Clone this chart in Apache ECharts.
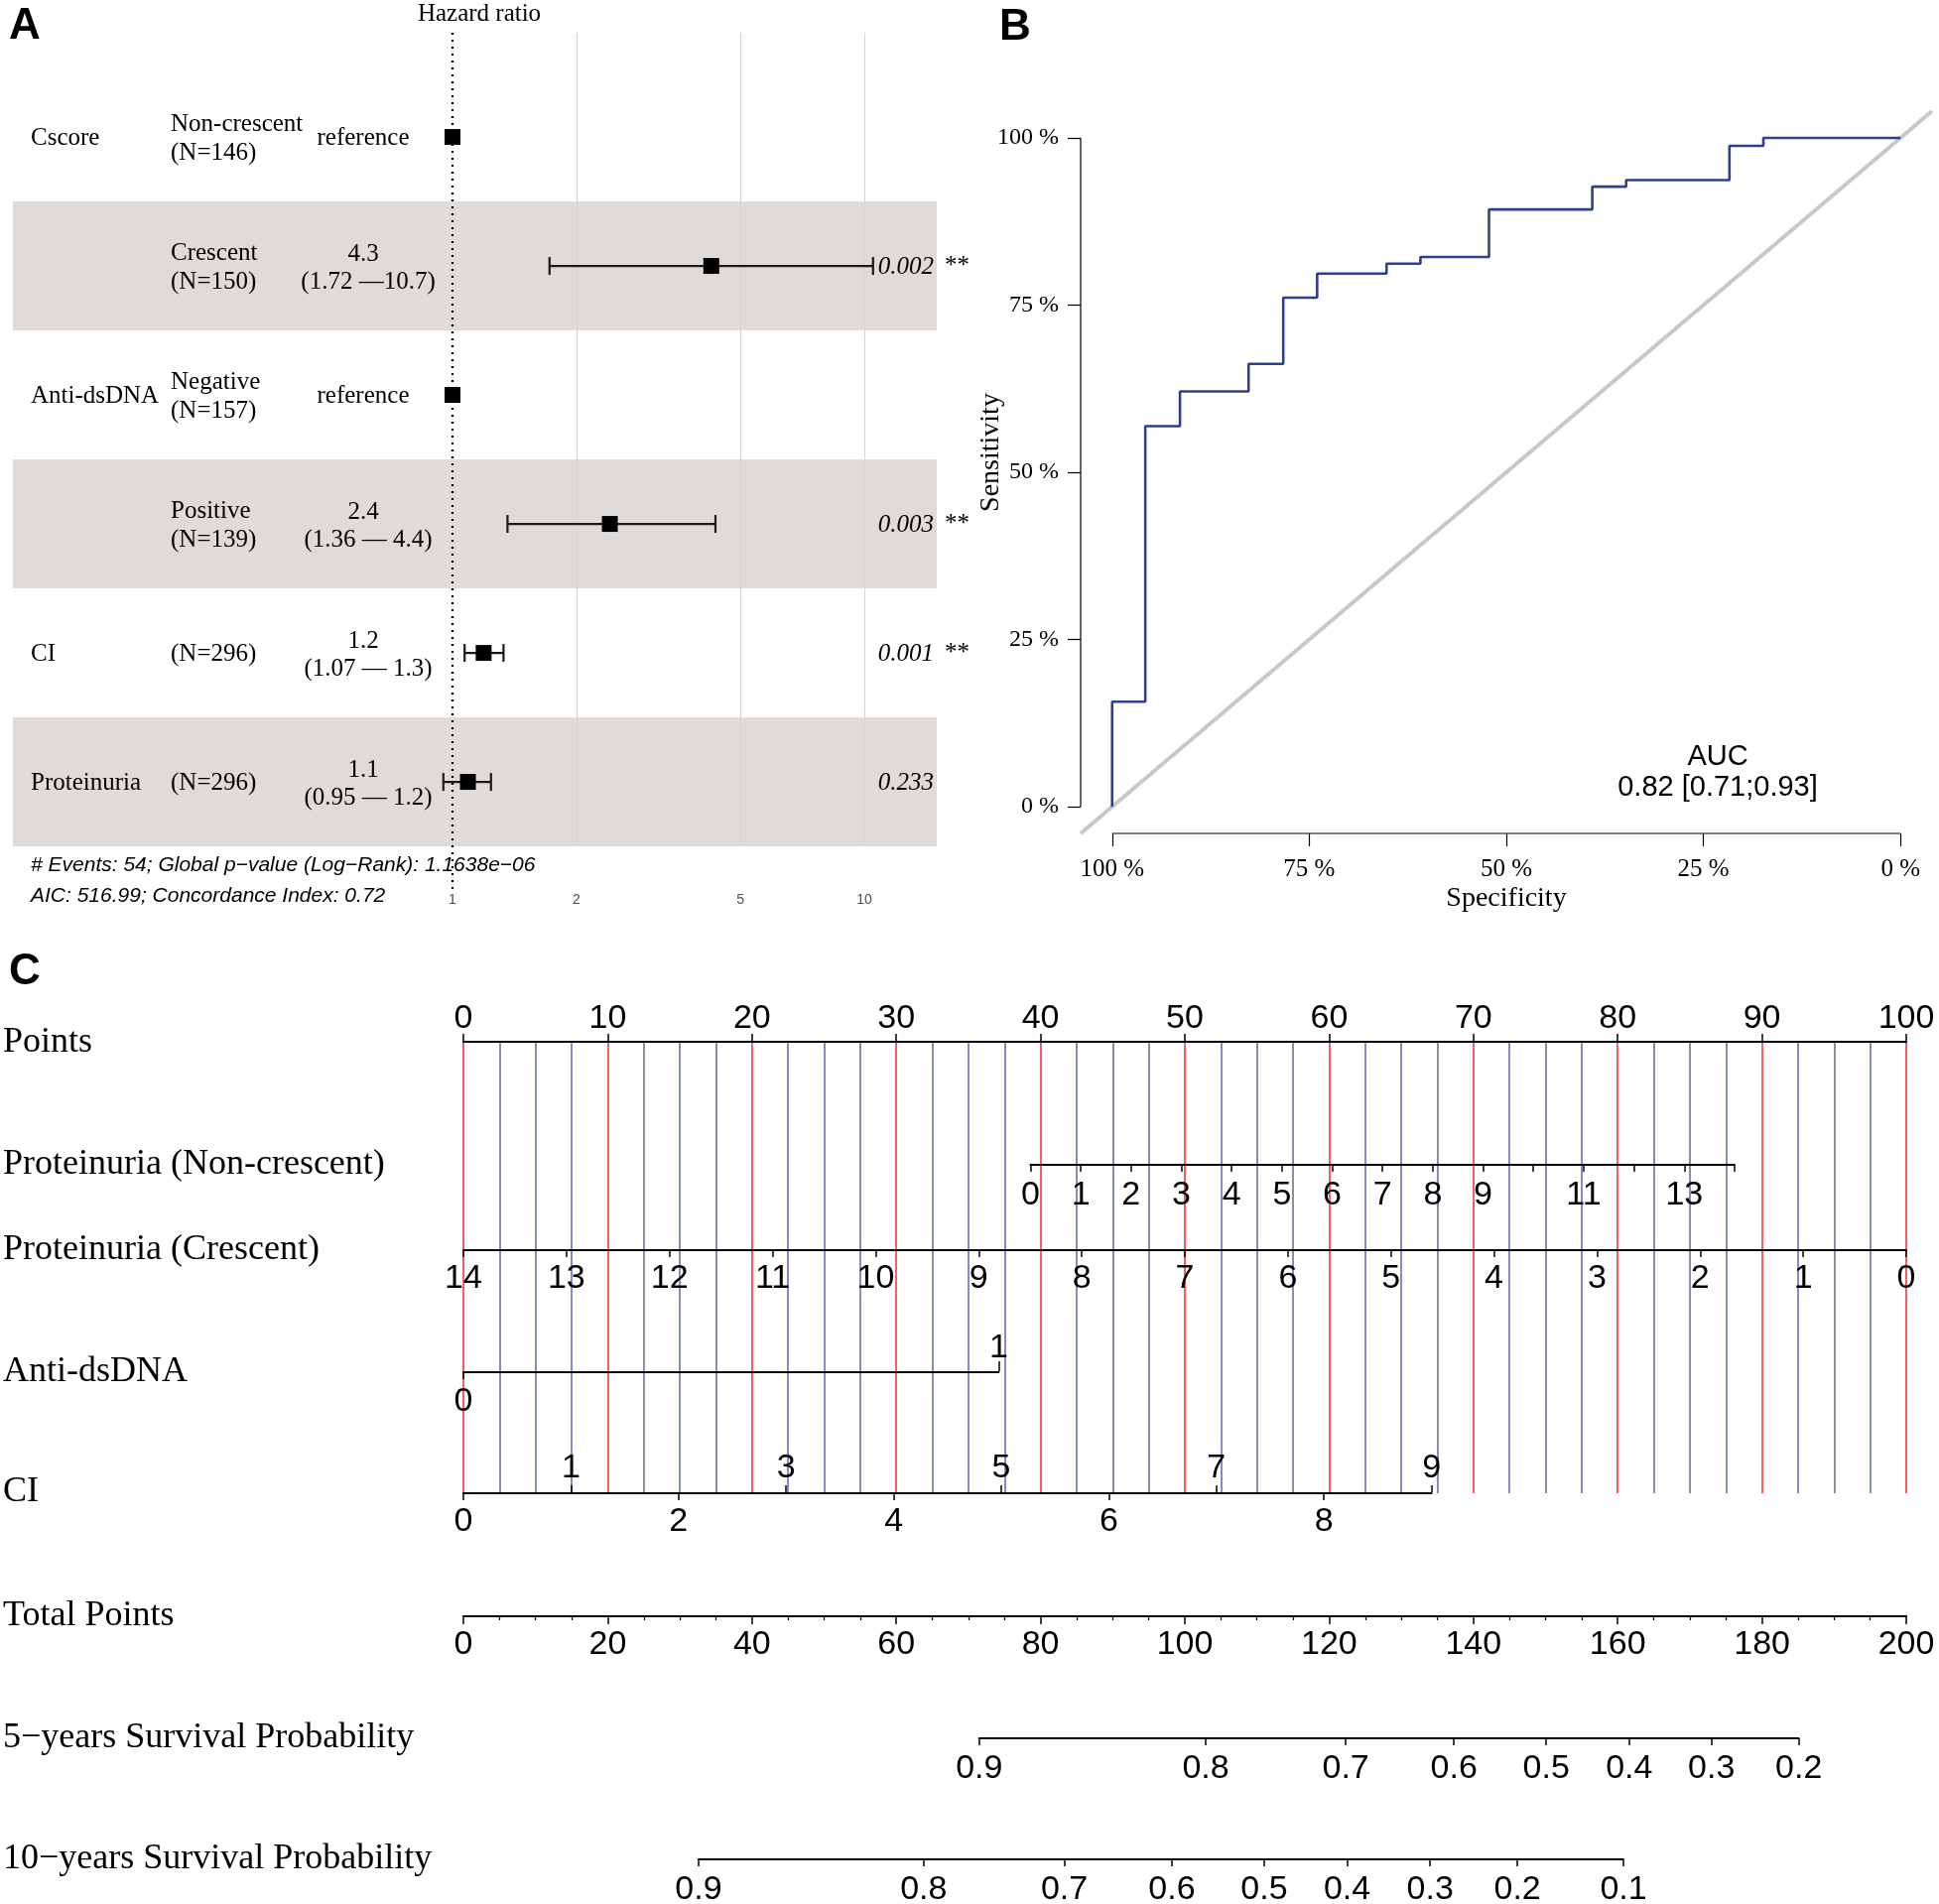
<!DOCTYPE html>
<html>
<head>
<meta charset="utf-8">
<script src="https://cdn.jsdelivr.net/npm/echarts@6/dist/echarts.min.js"></script>
<style>
html, body { margin: 0; padding: 0; background: #fff; }
#main { width: 1954px; height: 1919px; }
</style>
</head>
<body>
<div id="main"></div>
<script>
// ---------- A: forest plot ----------
const forestVariable = ['Cscore', '', 'Anti-dsDNA', '', 'CI', 'Proteinuria'];
const forestLevel = ['Non-crescent', 'Crescent', 'Negative', 'Positive', '', ''];
const forestN = [146, 150, 157, 139, 296, 296];
const forestHR = [1, 4.25, 1, 2.41, 1.19, 1.09];
const forestLow = [null, 1.72, null, 1.36, 1.07, 0.95];
const forestHigh = [null, 10.5, null, 4.35, 1.33, 1.24];
const forestHRText = ['reference', '4.3', 'reference', '2.4', '1.2', '1.1'];
const forestCIText = ['', '(1.72 \u201410.7)', '', '(1.36 \u2014 4.4)', '(1.07 \u2014 1.3)', '(0.95 \u2014 1.2)'];
const forestP = ['', '0.002', '', '0.003', '0.001', '0.233'];
const forestStars = ['', '**', '', '**', '**', ''];
const forestTicks = [1, 2, 5, 10];

// ---------- B: ROC curve ----------
const rocSpecificity = [1, 1, 0.958, 0.958, 0.914, 0.914, 0.827, 0.827, 0.783, 0.783, 0.740, 0.740,
  0.652, 0.652, 0.609, 0.609, 0.522, 0.522, 0.391, 0.391, 0.348, 0.348, 0.217, 0.217, 0.174, 0.174, 0];
const rocSensitivity = [0, 0.157, 0.157, 0.569, 0.569, 0.621, 0.621, 0.662, 0.662, 0.761, 0.761, 0.797,
  0.797, 0.812, 0.812, 0.822, 0.822, 0.893, 0.893, 0.927, 0.927, 0.937, 0.937, 0.988, 0.988, 1, 1];
const rocTicks = [0, 0.25, 0.5, 0.75, 1];

// ---------- C: nomogram ----------
const protNonCrescentRange = [0, 14];
const protNonCrescentPoints = [39.3, 88.1];
const protNonCrescentLabels = [0, 1, 2, 3, 4, 5, 6, 7, 8, 9, 11, 13];
const protCrescentRange = [0, 14];
const protCrescentPoints = [100, 0];
const antiDsDNARange = [0, 1];
const antiDsDNAPoints = [0, 37.1];
const ciRange = [0, 9];
const ciPoints = [0, 67.1];
const ciUpperLabels = [1, 3, 5, 7, 9];
const ciLowerLabels = [0, 2, 4, 6, 8];
const surv5Labels = [0.9, 0.8, 0.7, 0.6, 0.5, 0.4, 0.3, 0.2];
const surv5TotalPoints = [71.5, 102.9, 122.3, 137.3, 150.1, 161.6, 173.0, 185.1];
const surv10Labels = [0.9, 0.8, 0.7, 0.6, 0.5, 0.4, 0.3, 0.2, 0.1];
const surv10TotalPoints = [32.6, 63.8, 83.3, 98.2, 111.0, 122.5, 134.0, 146.1, 160.8];

const SERIF = '"Liberation Serif", "Times New Roman", serif';
const SANS = '"Liberation Sans", Arial, Helvetica, sans-serif';

// layout
const A_TOP = 33, A_BOT = 897, A_LEFT = 13, A_RIGHT = 944;
const A_XMIN = -1.0675, A_XMAX = 1.1759, A_YMIN = 0.192, A_YMAX = 6.838;
const rowY = r => A_TOP + (r - A_YMIN) / (A_YMAX - A_YMIN) * (A_BOT - A_TOP);
const C_LEFT = 467, C_W = 1454;
const ptsX = p => C_LEFT + p / 100 * C_W;
const tpX = t => C_LEFT + t / 200 * C_W;

const chart = echarts.init(document.getElementById('main'));

function txt(text, x, y, o) {
  o = o || {};
  return {
    type: 'text', x: x, y: y, rotation: o.rot || 0, silent: true, z: 100,
    style: {
      text: text, fill: '#000',
      fontSize: o.size || 25, fontFamily: o.family || SERIF,
      fontStyle: o.style || 'normal', fontWeight: o.weight || 'normal',
      align: o.align || 'left', verticalAlign: 'middle'
    }
  };
}

function hiddenY(gi) {
  return { gridIndex: gi, type: 'value', min: 0, max: 1, show: false };
}

function nomoAxis(gi, o) {
  return Object.assign({
    gridIndex: gi, type: 'value', position: 'bottom',
    axisLine: { show: true, onZero: false, lineStyle: { color: '#000', width: 2 } },
    axisTick: { show: true, length: 7, lineStyle: { color: '#000', width: 1.5 } },
    axisLabel: { show: true, color: '#000', fontSize: 34, lineHeight: 34, fontFamily: SANS, margin: 12,
      showMinLabel: true, showMaxLabel: true },
    splitLine: { show: false }
  }, o);
}

function lineGrid(pts, bottomY) {
  const x0 = ptsX(Math.min(pts[0], pts[1]));
  const x1 = ptsX(Math.max(pts[0], pts[1]));
  return { left: x0, width: x1 - x0, top: bottomY - 1, height: 1, outerBoundsMode: 'none' };
}

// forest marks
const squareData = forestHR.map((h, i) => [Math.log10(h), i + 1]);
const barData = [];
forestLow.forEach((lo, i) => {
  if (lo !== null) barData.push([Math.log10(lo), Math.log10(forestHigh[i]), i + 1]);
});
const bandAreas = [];
forestHR.forEach((h, i) => {
  if (i % 2 === 1) bandAreas.push([{ coord: [A_XMIN, i + 0.5] }, { coord: [A_XMAX, i + 1.5] }]);
});
const gridLines = forestTicks.slice(1).map(t => [
  { coord: [Math.log10(t), A_YMIN], lineStyle: { color: '#d8d5d3', width: 1.2, type: 'solid' } },
  { coord: [Math.log10(t), forestHR.length + 0.5] }
]);

// texts
const graphics = [];
graphics.push(txt('A', 9, 27, { size: 44, family: SANS, weight: 'bold' }));
graphics.push(txt('B', 1007, 28, { size: 44, family: SANS, weight: 'bold' }));
graphics.push(txt('C', 9, 980, { size: 44, family: SANS, weight: 'bold' }));
graphics.push(txt('Hazard ratio', 483, 14, { align: 'center' }));
forestHR.forEach((h, i) => {
  const y = rowY(i + 1) + 1;
  if (forestVariable[i]) graphics.push(txt(forestVariable[i], 31, y));
  const nText = '(N=' + forestN[i] + ')';
  if (forestLevel[i]) {
    graphics.push(txt(forestLevel[i], 172, y - 14));
    graphics.push(txt(nText, 172, y + 15));
  } else {
    graphics.push(txt(nText, 172, y));
  }
  if (forestCIText[i]) {
    graphics.push(txt(forestHRText[i], 366, y - 13, { align: 'center' }));
    graphics.push(txt(forestCIText[i], 371, y + 15, { align: 'center' }));
  } else {
    graphics.push(txt(forestHRText[i], 366, y, { align: 'center' }));
  }
  if (forestP[i]) graphics.push(txt(forestP[i], 941, y, { align: 'right', style: 'italic' }));
  if (forestStars[i]) graphics.push(txt(forestStars[i], 952, y - 1));
});
graphics.push(txt('# Events: 54; Global p\u2212value (Log\u2212Rank): 1.1638e\u221206', 31, 872,
  { size: 21, family: SANS, style: 'italic' }));
graphics.push(txt('AIC: 516.99; Concordance Index: 0.72', 31, 903,
  { size: 21, family: SANS, style: 'italic' }));
graphics.push(txt('Sensitivity', 999, 456, { size: 28, align: 'center', rot: Math.PI / 2 }));
graphics.push(txt('AUC', 1731, 763, { size: 29, family: SANS, align: 'center' }));
graphics.push(txt('0.82 [0.71;0.93]', 1731, 794, { size: 29, family: SANS, align: 'center' }));
const nomoLabels = [
  ['Points', 1051], ['Proteinuria (Non-crescent)', 1174], ['Proteinuria (Crescent)', 1260],
  ['Anti-dsDNA', 1383], ['CI', 1504], ['Total Points', 1629],
  ['5\u2212years Survival Probability', 1752], ['10\u2212years Survival Probability', 1874]
];
nomoLabels.forEach(l => graphics.push(txt(l[0], 3, l[1], { size: 36 })));

const s5x0 = tpX(surv5TotalPoints[0]), s5x1 = tpX(surv5TotalPoints[surv5TotalPoints.length - 1]);
const s10x0 = tpX(surv10TotalPoints[0]), s10x1 = tpX(surv10TotalPoints[surv10TotalPoints.length - 1]);

const option = {
  backgroundColor: '#fff',
  animation: false,
  grid: [
    { left: A_LEFT, top: A_TOP, width: A_RIGHT - A_LEFT, height: A_BOT - A_TOP, outerBoundsMode: 'none' },
    { left: 1089, top: 112, width: 858, height: 728, outerBoundsMode: 'none' },
    { left: C_LEFT, top: 1050, width: C_W, height: 455, outerBoundsMode: 'none' },
    lineGrid(protNonCrescentPoints, 1174),
    lineGrid(protCrescentPoints, 1260),
    lineGrid(antiDsDNAPoints, 1383),
    lineGrid(ciPoints, 1505),
    { left: C_LEFT, width: C_W, top: 1628, height: 1, outerBoundsMode: 'none' },
    { left: s5x0, width: s5x1 - s5x0, top: 1751, height: 1, outerBoundsMode: 'none' },
    { left: s10x0, width: s10x1 - s10x0, top: 1873, height: 1, outerBoundsMode: 'none' }
  ],
  xAxis: [
    { // 0 forest
      gridIndex: 0, type: 'value', min: A_XMIN, max: A_XMAX,
      axisLine: { show: false, onZero: false }, axisTick: { show: false }, splitLine: { show: false },
      axisLabel: { customValues: forestTicks.map(t => Math.log10(t)), margin: 3,
        formatter: v => String(Math.round(Math.pow(10, v))),
        color: '#4d4d4d', fontSize: 14, lineHeight: 14, fontFamily: SANS }
    },
    { // 1 roc
      gridIndex: 1, type: 'value', min: -0.04, max: 1.04, inverse: true,
      axisLine: { show: false, onZero: false }, splitLine: { show: false },
      axisTick: { show: true, customValues: rocTicks, length: 13, lineStyle: { color: '#000', width: 1.2 } },
      axisLabel: { customValues: rocTicks, formatter: v => Math.round(v * 100) + ' %', margin: 24,
        color: '#000', fontSize: 25, lineHeight: 25, fontFamily: SERIF },
      name: 'Specificity', nameLocation: 'middle', nameGap: 52,
      nameTextStyle: { color: '#000', fontSize: 28, fontFamily: SERIF, lineHeight: 28 }
    },
    nomoAxis(2, { // 2 points
      position: 'top', min: 0, max: 100, interval: 10,
      axisTick: { show: true, length: 8, lineStyle: { color: '#000', width: 1.5 } },
      axisLabel: { color: '#000', fontSize: 34, lineHeight: 34, fontFamily: SANS, margin: 6,
        showMinLabel: true, showMaxLabel: true },
      splitLine: { show: true, lineStyle: { color: '#ee2b2b', width: 1.5 } },
      minorTick: { show: false, splitNumber: 4 },
      minorSplitLine: { show: true, lineStyle: { color: '#5b68ad', width: 1.5 } }
    }),
    nomoAxis(3, { // 3 proteinuria non-crescent
      min: protNonCrescentRange[0], max: protNonCrescentRange[1], interval: 1,
      axisLabel: { color: '#000', fontSize: 34, lineHeight: 34, fontFamily: SANS, margin: 14,
        showMinLabel: true, showMaxLabel: true,
        formatter: v => protNonCrescentLabels.indexOf(v) >= 0 ? String(v) : '' }
    }),
    nomoAxis(4, { // 4 proteinuria crescent
      min: protCrescentRange[0], max: protCrescentRange[1], interval: 1, inverse: true,
      axisLabel: { color: '#000', fontSize: 34, lineHeight: 34, fontFamily: SANS, margin: 12,
        showMinLabel: true, showMaxLabel: true }
    }),
    nomoAxis(5, { // 5 anti-dsDNA lower
      min: antiDsDNARange[0], max: antiDsDNARange[1],
      axisTick: { show: true, customValues: [antiDsDNARange[0]], length: 7, lineStyle: { color: '#000', width: 1.5 } },
      axisLabel: { customValues: [antiDsDNARange[0]], color: '#000', fontSize: 34, lineHeight: 34,
        fontFamily: SANS, margin: 13 }
    }),
    nomoAxis(5, { // 6 anti-dsDNA upper
      position: 'top', min: antiDsDNARange[0], max: antiDsDNARange[1],
      axisLine: { show: false, onZero: false },
      axisTick: { show: true, customValues: [antiDsDNARange[1]], length: 10, lineStyle: { color: '#000', width: 1.5 } },
      axisLabel: { customValues: [antiDsDNARange[1]], color: '#000', fontSize: 34, lineHeight: 34,
        fontFamily: SANS, margin: 6 }
    }),
    nomoAxis(6, { // 7 CI lower
      min: ciRange[0], max: ciRange[1],
      axisTick: { show: true, customValues: ciLowerLabels, length: 7, lineStyle: { color: '#000', width: 1.5 } },
      axisLabel: { customValues: ciLowerLabels, color: '#000', fontSize: 34, lineHeight: 34,
        fontFamily: SANS, margin: 12 }
    }),
    nomoAxis(6, { // 8 CI upper
      position: 'top', min: ciRange[0], max: ciRange[1],
      axisLine: { show: false, onZero: false },
      axisTick: { show: true, customValues: ciUpperLabels, length: 7, lineStyle: { color: '#000', width: 1.5 } },
      axisLabel: { customValues: ciUpperLabels, color: '#000', fontSize: 34, lineHeight: 34,
        fontFamily: SANS, margin: 7 }
    }),
    nomoAxis(7, { // 9 total points
      min: 0, max: 200, interval: 20,
      axisTick: { show: true, length: 8, lineStyle: { color: '#000', width: 1.5 } },
      minorTick: { show: true, splitNumber: 4, length: 4, lineStyle: { color: '#000', width: 1.2 } },
      axisLabel: { color: '#000', fontSize: 34, lineHeight: 34, fontFamily: SANS, margin: 12,
        showMinLabel: true, showMaxLabel: true }
    }),
    nomoAxis(8, { // 10 5-year survival
      min: surv5TotalPoints[0], max: surv5TotalPoints[surv5TotalPoints.length - 1],
      axisTick: { show: true, customValues: surv5TotalPoints, length: 7, lineStyle: { color: '#000', width: 1.5 } },
      axisLabel: { customValues: surv5TotalPoints, color: '#000', fontSize: 34, lineHeight: 34,
        fontFamily: SANS, margin: 14, formatter: v => String(surv5Labels[surv5TotalPoints.indexOf(v)]) }
    }),
    nomoAxis(9, { // 11 10-year survival
      min: surv10TotalPoints[0], max: surv10TotalPoints[surv10TotalPoints.length - 1],
      axisTick: { show: true, customValues: surv10TotalPoints, length: 7, lineStyle: { color: '#000', width: 1.5 } },
      axisLabel: { customValues: surv10TotalPoints, color: '#000', fontSize: 34, lineHeight: 34,
        fontFamily: SANS, margin: 14, formatter: v => String(surv10Labels[surv10TotalPoints.indexOf(v)]) }
    })
  ],
  yAxis: [
    { gridIndex: 0, type: 'value', min: A_YMIN, max: A_YMAX, inverse: true, show: false },
    {
      gridIndex: 1, type: 'value', min: -0.04, max: 1.04,
      axisLine: { show: false, onZero: false }, splitLine: { show: false },
      axisTick: { show: true, customValues: rocTicks, length: 13, lineStyle: { color: '#000', width: 1.2 } },
      axisLabel: { customValues: rocTicks, formatter: v => Math.round(v * 100) + ' %', margin: 22,
        color: '#000', fontSize: 24, lineHeight: 24, fontFamily: SERIF }
    },
    hiddenY(2), hiddenY(3), hiddenY(4), hiddenY(5), hiddenY(6), hiddenY(7), hiddenY(8), hiddenY(9)
  ],
  graphic: { elements: graphics },
  series: [
    { // bands, grid lines and the reference line of panel A
      type: 'line', xAxisIndex: 0, yAxisIndex: 0, data: [], silent: true,
      markArea: { silent: true, itemStyle: { color: '#dfdbd9' }, data: bandAreas },
      markLine: {
        silent: true, symbol: ['none', 'none'], label: { show: false },
        data: gridLines.concat([[
          { coord: [0, A_YMIN], lineStyle: { color: '#000', width: 2.2, type: [2, 5] } },
          { coord: [0, A_YMAX] }
        ]])
      }
    },
    {
      type: 'custom', xAxisIndex: 0, yAxisIndex: 0, z: 10, silent: true,
      data: barData, encode: { x: [0, 1], y: 2 },
      renderItem: (params, api) => {
        const y = api.value(2);
        const p0 = api.coord([api.value(0), y]);
        const p1 = api.coord([api.value(1), y]);
        const h = 9;
        const st = { stroke: '#1a1a1a', lineWidth: 2.2 };
        return { type: 'group', children: [
          { type: 'line', shape: { x1: p0[0], y1: p0[1], x2: p1[0], y2: p1[1] }, style: st },
          { type: 'line', shape: { x1: p0[0], y1: p0[1] - h, x2: p0[0], y2: p0[1] + h }, style: st },
          { type: 'line', shape: { x1: p1[0], y1: p1[1] - h, x2: p1[0], y2: p1[1] + h }, style: st }
        ] };
      }
    },
    {
      type: 'scatter', xAxisIndex: 0, yAxisIndex: 0, z: 11, silent: true,
      symbol: 'rect', symbolSize: 16, itemStyle: { color: '#000', opacity: 1 }, data: squareData
    },
    // ROC panel
    {
      type: 'line', xAxisIndex: 1, yAxisIndex: 1, silent: true, symbol: 'none', clip: false,
      lineStyle: { color: '#c8c8c8', width: 4 }, data: [[1.04, -0.04], [-0.04, 1.04]]
    },
    {
      type: 'line', xAxisIndex: 1, yAxisIndex: 1, silent: true, symbol: 'none', clip: false,
      lineStyle: { color: '#000', width: 1.2 }, data: [[rocTicks[4], -0.04], [rocTicks[0], -0.04]]
    },
    {
      type: 'line', xAxisIndex: 1, yAxisIndex: 1, silent: true, symbol: 'none', clip: false,
      lineStyle: { color: '#000', width: 1.2 }, data: [[1.04, rocTicks[0]], [1.04, rocTicks[4]]]
    },
    {
      type: 'line', xAxisIndex: 1, yAxisIndex: 1, silent: true, symbol: 'none', clip: false, z: 5,
      lineStyle: { color: '#2f3f8f', width: 2.6 },
      data: rocSpecificity.map((s, i) => [s, rocSensitivity[i]])
    }
  ]
};

chart.setOption(option);
</script>
</body>
</html>
